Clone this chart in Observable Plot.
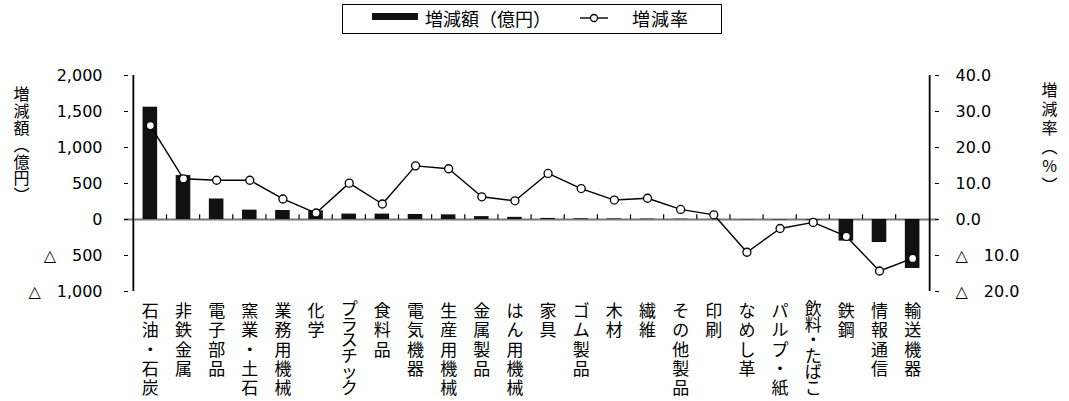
<!DOCTYPE html>
<html><head><meta charset="utf-8">
<script src="https://cdn.jsdelivr.net/npm/d3@7"></script>
<script src="https://cdn.jsdelivr.net/npm/@observablehq/plot@0.6"></script>
<style>
body{margin:0;background:#fff;font-family:"Noto Sans CJK JP",sans-serif;color:#000;}
#legend{position:relative;height:38px;width:1069px;}
#legend .box{position:absolute;left:342px;top:4px;width:380px;height:30px;border:1.5px solid #000;box-sizing:border-box;}
#legend .sw{position:absolute;left:372px;top:13px;width:46px;height:7px;background:#111;}
#legend .t{position:absolute;top:5px;font-size:18px;line-height:26px;white-space:nowrap;}
#legend svg{position:absolute;left:579px;top:12px;}
</style></head>
<body>
<div id="legend">
  <div class="box"></div>
  <div class="sw"></div>
  <div class="t" style="left:425px">増減額（億円）</div>
  <svg width="30" height="12"><line x1="1" y1="6" x2="29" y2="6" stroke="#000" stroke-width="1.4"/><circle cx="15" cy="6" r="3.5" fill="#fff" stroke="#000" stroke-width="1.3"/></svg>
  <div class="t" style="left:632px;letter-spacing:1px">増減率</div>
</div>
<div id="chart"></div>
<script>
const categories = ["石油・石炭","非鉄金属","電子部品","窯業・土石","業務用機械","化学","プラスチック","食料品","電気機器","生産用機械","金属製品","はん用機械","家具","ゴム製品","木材","繊維","その他製品","印刷","なめし革","パルプ・紙","飲料・たばこ","鉄鋼","情報通信","輸送機器"];
const amounts = [1560, 610, 285, 130, 125, 120, 75, 75, 70, 65, 40, 30, 15, 10, 8, 6, 4, 2, -3, -5, -8, -300, -320, -680];
const rates = [26.1, 11.3, 10.9, 10.9, 5.7, 1.8, 10.1, 4.3, 14.9, 14.1, 6.3, 5.2, 12.8, 8.6, 5.4, 5.9, 2.8, 1.3, -9.1, -2.5, -0.8, -4.7, -14.3, -10.8];
const leftTicks = [-1000, -500, 0, 500, 1000, 1500, 2000];
const rightTicks = [-20, -10, 0, 10, 20, 30, 40];
const leftTitle = "増減額︵億円︶";
const rightTitle = "増減率︵%︶";

const K = 50; // 1% on the right axis corresponds to 50 億円 on the left axis
const data = categories.map((c, i) => ({cat: c, amt: amounts[i], rate: rates[i]}));
const fmtL = d => d < 0 ? "△\u2003" + d3.format(",")(-d) : d3.format(",")(d);
const fmtR = d => d < 0 ? "△\u2003" + d3.format(".1f")(-d) : d3.format(".1f")(d);
const vert = s => [...s].join("\n");
const shortCats = categories.filter(c => [...c].length <= 5);
const longCats = categories.filter(c => [...c].length > 5);

const plot = Plot.plot({
  width: 1069, height: 363,
  marginTop: 37, marginBottom: 110, marginLeft: 124, marginRight: 131,
  style: {fontFamily: "'DejaVu Sans', 'Noto Sans CJK JP', sans-serif", fontSize: "16px", background: "#fff", color: "#000"},
  x: {domain: categories, padding: 0.56, round: false, label: null},
  y: {domain: [-1000, 2000], label: null},
  marks: [
    Plot.ruleY([0], {stroke: "#777", strokeWidth: 2}),
    Plot.ruleX(categories, {x: d => d, y1: 0, y2: 65, dx: -17, stroke: "#000", strokeWidth: 1.2}),
    Plot.barY(data, {x: "cat", y: "amt", fill: "#111"}),
    Plot.line(data, {x: "cat", y: d => d.rate * K, stroke: "#000", strokeWidth: 1.4}),
    Plot.dot(data, {x: "cat", y: d => d.rate * K, r: 4, fill: "#fff", stroke: "#000", strokeWidth: 1.3}),
    Plot.ruleX([categories[0]], {x: d => d, y1: -1000, y2: 2000, dx: -17, stroke: "#000", strokeWidth: 1.8}),
    Plot.ruleX([categories[categories.length - 1]], {x: d => d, y1: -1000, y2: 2000, dx: 17, stroke: "#000", strokeWidth: 1.8}),
    Plot.axisY({anchor: "left", label: null, ticks: leftTicks, tickFormat: fmtL, tickSize: -4, tickPadding: 26, fontSize: 16}),
    Plot.axisY({anchor: "right", label: null, ticks: rightTicks.map(v => v * K), tickFormat: d => fmtR(d / K), tickSize: -4, tickPadding: 21, fontSize: 16}),
    Plot.axisX({label: null, ticks: shortCats, tickSize: 0, tickPadding: 12, tickFormat: vert, lineHeight: 1.13, fontSize: 17, fontFamily: "Noto Sans CJK JP"}),
    Plot.axisX({label: null, ticks: longCats, tickSize: 0, tickPadding: 12, tickFormat: vert, lineHeight: 0.93, fontSize: 17, fontFamily: "Noto Sans CJK JP"}),
    Plot.text([leftTitle], {text: d => vert(d), frameAnchor: "top-left", dx: -103, dy: 13, lineAnchor: "top", textAnchor: "middle", lineHeight: 1.05, fontSize: 16, fontFamily: "Noto Sans CJK JP"}),
    Plot.text([rightTitle], {text: d => vert(d), frameAnchor: "top-right", dx: 111, dy: 7, lineAnchor: "top", textAnchor: "middle", lineHeight: 1.19, fontSize: 16, fontFamily: "Noto Sans CJK JP"})
  ]
});
document.getElementById("chart").appendChild(plot);
</script>
</body></html>
